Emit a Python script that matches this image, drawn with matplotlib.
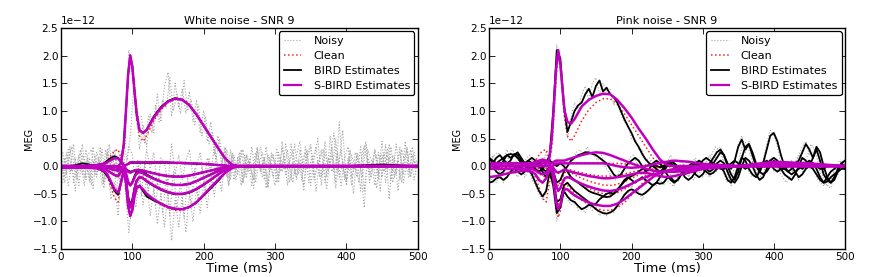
import numpy as np
import matplotlib
matplotlib.use('Agg')
import matplotlib.pyplot as plt
from matplotlib.lines import Line2D

UNIT = 1e-12  # values below are in units of 1e-12

# ---------------- time axes ----------------
t_s = [0, 10, 20, 30, 40, 50, 60, 65, 70, 75,
       80, 84, 88, 91, 94, 97, 100, 103, 106, 110,
       115, 120, 130, 140, 150, 160, 170, 180, 190, 200,
       210, 220, 230, 240, 250, 260, 280, 300, 350, 400,
       450, 500]
t_5 = list(range(0, 501, 5))
t_5o = [2.5 + 5 * k for k in range(100)]

# ---------------- clean signals (both panels) ----------------
clean_1 = [0, 0, 0, 0, 0, 0, 0, 0, 0, 0.02,
           0.0, 0.02, 0.35, 0.95, 1.6, 2.04, 1.8, 1.3, 0.85, 0.55,
           0.45, 0.55, 0.82, 1.02, 1.15, 1.22, 1.22, 1.12, 0.95, 0.75,
           0.55, 0.35, 0.15, 0.03, 0.0, 0, 0, 0, 0, 0,
           0, 0]
clean_2 = [-0.02, -0.03, -0.03, -0.03, -0.04, -0.05, -0.1, -0.2, -0.38, -0.58,
           -0.65, -0.35, -0.05, -0.3, -0.75, -0.93, -0.82, -0.55, -0.38, -0.35,
           -0.42, -0.5, -0.62, -0.7, -0.76, -0.8, -0.8, -0.75, -0.66, -0.52,
           -0.38, -0.25, -0.12, -0.03, 0.0, 0.01, 0.01, 0, 0, 0,
           0, 0]
clean_3 = [-0.01, -0.01, -0.01, -0.02, -0.02, -0.03, -0.05, -0.08, -0.12, -0.18,
           -0.2, -0.1, 0.0, -0.2, -0.55, -0.72, -0.62, -0.4, -0.25, -0.18,
           -0.2, -0.25, -0.33, -0.4, -0.46, -0.5, -0.51, -0.48, -0.42, -0.34,
           -0.25, -0.16, -0.08, -0.02, 0, 0, 0, 0, 0, 0,
           0, 0]
clean_4 = [0, 0, 0, 0, 0, -0.01, -0.02, -0.03, -0.05, -0.08,
           -0.1, -0.05, 0.0, -0.12, -0.28, -0.36, -0.3, -0.2, -0.12, -0.1,
           -0.12, -0.16, -0.22, -0.27, -0.31, -0.34, -0.35, -0.33, -0.28, -0.22,
           -0.16, -0.1, -0.05, -0.01, 0, 0, 0, 0, 0, 0,
           0, 0]
clean_5 = [0, 0, 0, 0, 0, 0, 0, 0, -0.02, -0.03,
           -0.04, -0.02, 0.0, -0.05, -0.1, -0.12, -0.1, -0.08, -0.06, -0.06,
           -0.07, -0.09, -0.12, -0.15, -0.17, -0.18, -0.18, -0.17, -0.14, -0.11,
           -0.08, -0.05, -0.02, 0, 0, 0, 0, 0, 0, 0,
           0, 0]
clean_6 = [0, 0, 0, 0, 0.01, 0.02, 0.05, 0.1, 0.2, 0.28,
           0.3, 0.15, 0.02, 0.0, 0.02, 0.05, 0.06, 0.06, 0.06, 0.06,
           0.06, 0.06, 0.06, 0.06, 0.06, 0.06, 0.05, 0.05, 0.04, 0.04,
           0.03, 0.02, 0.01, 0.0, -0.01, -0.02, -0.02, -0.01, 0, 0,
           0, 0]

# ---------------- white noise panel ----------------
white_noisy_1 = [0.2, -0.3, 0.1, 0.35, -0.2, 0.05, 0.4, -0.25, 0.15, -0.4,
                 0.25, 0.0, -0.3, 0.3, -0.15, 0.2, -0.1, 0.25, 0.4, 2.1,
                 1.6, 1.2, 0.3, 0.75, 0.35, 0.95, 0.6, 1.3, 0.8, 1.45,
                 1.7, 0.9, 1.5, 1.05, 1.4, 0.95, 1.35, 0.8, 1.2, 0.6,
                 1.0, 0.45, 0.8, 0.2, 0.55, 0.0, 0.35, -0.2, 0.25, -0.1,
                 0.15, -0.3, 0.2, 0.0, -0.25, 0.3, -0.1, 0.15, -0.35, 0.25,
                 0.05, -0.2, 0.35, -0.15, 0.1, -0.3, 0.2, 0.45, -0.1, 0.3,
                 -0.35, 0.15, 0.5, -0.2, 0.25, -0.05, 0.35, -0.3, 0.8, 0.0,
                 -0.25, 0.3, -0.1, 0.2, -0.45, 0.35, 0.05, -0.2, 0.3, -0.15,
                 0.45, -0.3, 0.15, -0.1, 0.4, -0.25, 0.1, 0.3, -0.2, 0.25,
                 0.0]
white_noisy_2 = [-0.25, 0.15, -0.35, 0.05, -0.45, 0.2, -0.15, 0.3, -0.3, 0.1,
                 -0.2, 0.35, -0.4, 0.05, -0.6, -0.3, -0.9, 0.0, -0.4, -1.2,
                 -0.6, -0.75, -0.1, -0.7, -0.2, -0.9, -0.4, -1.05, -0.5, -1.1,
                 -0.45, -1.35, -0.6, -1.1, -0.55, -1.2, -0.5, -1.0, -0.4, -0.85,
                 -0.3, -0.75, -0.15, -0.55, 0.0, -0.45, 0.1, -0.35, 0.2, -0.25,
                 0.05, 0.3, -0.2, 0.15, -0.4, 0.1, 0.35, -0.25, 0.2, -0.05,
                 -0.35, 0.25, -0.1, 0.4, -0.3, 0.05, -0.2, 0.3, -0.45, 0.15,
                 0.35, -0.25, 0.1, -0.35, 0.45, -0.1, 0.2, -0.4, 0.1, 0.65,
                 -0.3, 0.15, -0.5, 0.25, -0.05, -0.75, 0.3, 0.1, -0.35, 0.25,
                 -0.2, 0.4, -0.6, 0.2, -0.15, 0.35, -0.3, 0.05, 0.3, -0.25,
                 0.1]
white_noisy_3 = [0.1, -0.2, 0.3, -0.1, 0.15, -0.35, 0.2, 0.05, -0.25, 0.35,
                 -0.15, 0.1, -0.3, 0.25, 0.0, 0.3, -0.2, 0.15, -0.1, 0.35,
                 0.2, -0.4, 0.1, -0.25, 0.3, -0.05, 0.25, -0.35, 0.15, 0.05,
                 -0.3, 0.4, -0.15, 0.2, -0.25, 0.1, 0.3, -0.2, 0.0, 0.25,
                 -0.3, 0.15, -0.1, 0.35, -0.2, 0.05, 0.3, -0.35, 0.1, -0.05,
                 0.25, -0.3, 0.2, 0.0, -0.25, 0.35, -0.1, 0.15, -0.4, 0.2,
                 0.1, -0.3, 0.45, -0.15, 0.05, 0.3, -0.25, 0.1, -0.35, 0.2,
                 0.4, -0.2, 0.0, 0.3, -0.3, 0.15, -0.1, 0.5, -0.2, 0.05,
                 -0.35, 0.25, 0.1, -0.2, 0.35, -0.45, 0.15, 0.0, 0.3, -0.25,
                 0.2, -0.1, 0.4, -0.3, 0.05, 0.25, -0.15, 0.35, -0.2, 0.1,
                 0.0]
# sampled on the half-step grid t_5o
white_noisy_4 = [-0.3, 0.25, -0.1, 0.4, -0.25, 0.1, -0.35, 0.2, 0.3, -0.15,
                 0.15, -0.35, 0.3, -0.05, 0.2, -0.45, 0.05, 0.3, -0.4, -0.95,
                 -0.4, 0.1, -0.55, 0.05, -0.45, -0.1, -0.7, -0.15, -0.85, -0.2,
                 -0.9, -0.1, -0.75, -0.3, -0.95, -0.2, -0.7, -0.05, -0.6, 0.0,
                 -0.45, 0.15, -0.4, 0.2, -0.3, 0.25, -0.2, 0.3, -0.25, 0.15,
                 -0.35, 0.2, -0.1, 0.35, -0.3, 0.05, 0.25, -0.4, 0.15, -0.2,
                 0.3, -0.1, 0.2, -0.35, 0.4, -0.15, 0.1, -0.25, 0.35, -0.05,
                 0.2, -0.45, 0.1, 0.3, -0.2, 0.55, -0.1, 0.25, -0.35, 0.15,
                 0.35, -0.2, 0.05, -0.3, 0.25, 0.45, -0.15, 0.1, -0.4, 0.2,
                 -0.1, 0.3, -0.25, 0.15, -0.45, 0.3, 0.05, -0.2, 0.35, -0.15]
white_noisy_5 = [0.25, -0.15, 0.35, -0.3, 0.05, 0.3, -0.2, 0.15, -0.35, 0.2,
                 -0.1, 0.3, -0.25, 0.4, -0.1, 0.15, -0.3, 0.45, 0.1, 0.6,
                 1.6, 0.9, 0.9, 0.4, 0.9, 0.6, 1.1, 0.8, 1.2, 1.05,
                 1.6, 1.0, 1.3, 0.95, 1.55, 1.0, 1.2, 0.75, 1.1, 0.55,
                 0.9, 0.4, 0.6, 0.15, 0.5, -0.1, 0.3, -0.25, 0.2, -0.15,
                 0.3, -0.2, 0.1, -0.35, 0.25, 0.0, -0.2, 0.35, -0.1, 0.2,
                 -0.3, 0.15, -0.05, 0.3, -0.25, 0.4, -0.15, 0.05, 0.25, -0.3,
                 0.1, 0.35, -0.2, 0.05, -0.4, 0.2, 0.6, -0.1, 0.3, -0.25,
                 0.15, -0.35, 0.25, 0.05, -0.2, 0.4, -0.3, 0.1, 0.2, -0.45,
                 0.25, -0.05, 0.35, -0.2, 0.1, -0.3, 0.45, -0.1, 0.2, 0.0]

white_bird_1 = [0, 0, 0, 0, 0, 0, 0, 0, 0, 0.0,
                0.0, 0.05, 0.4, 1.0, 1.65, 2.0, 1.8, 1.35, 0.95, 0.65,
                0.6, 0.66, 0.9, 1.07, 1.18, 1.23, 1.2, 1.1, 0.93, 0.73,
                0.53, 0.33, 0.14, 0.02, 0.0, 0, 0, 0, 0, 0,
                0, 0]
white_bird_2 = [-0.02, -0.02, 0.02, 0.05, 0.03, -0.02, -0.1, -0.18, -0.3, -0.45,
                -0.52, -0.3, -0.05, -0.3, -0.7, -0.9, -0.78, -0.52, -0.38, -0.35,
                -0.45, -0.55, -0.62, -0.68, -0.74, -0.78, -0.78, -0.74, -0.66, -0.53,
                -0.4, -0.27, -0.12, -0.03, 0.0, -0.02, -0.01, 0, 0, 0,
                0.03, 0]
white_bird_3 = [-0.02, -0.02, -0.02, -0.02, -0.02, -0.03, -0.05, -0.08, -0.12, -0.16,
                -0.18, -0.1, 0.0, -0.22, -0.55, -0.7, -0.6, -0.4, -0.26, -0.2,
                -0.22, -0.28, -0.36, -0.43, -0.48, -0.51, -0.51, -0.48, -0.42, -0.34,
                -0.25, -0.15, -0.07, -0.02, 0, 0, 0, 0, 0, 0,
                0, 0]
white_bird_4 = [0, 0, 0, 0, 0, -0.01, -0.02, -0.03, -0.05, -0.07,
                -0.08, -0.04, 0.0, -0.15, -0.3, -0.35, -0.28, -0.18, -0.1, -0.08,
                -0.1, -0.15, -0.22, -0.28, -0.32, -0.34, -0.34, -0.32, -0.27, -0.21,
                -0.15, -0.09, -0.04, -0.01, 0, 0, 0, 0, 0, 0,
                0, 0]
white_bird_5 = [0, 0, 0, 0, 0, 0, 0, 0, -0.01, -0.02,
                -0.03, -0.02, 0.0, -0.05, -0.08, -0.1, -0.09, -0.08, -0.08, -0.08,
                -0.09, -0.1, -0.13, -0.16, -0.18, -0.19, -0.19, -0.17, -0.14, -0.11,
                -0.08, -0.05, -0.02, 0, 0, 0, 0, 0, 0, 0,
                0, 0]
white_bird_6 = [0, 0, 0, 0, 0.01, 0.02, 0.05, 0.1, 0.15, 0.18,
                0.15, 0.08, 0.02, 0.02, 0.04, 0.06, 0.06, 0.06, 0.06, 0.06,
                0.06, 0.06, 0.06, 0.06, 0.06, 0.06, 0.05, 0.05, 0.04, 0.04,
                0.03, 0.02, 0.01, 0.0, 0, 0, 0, 0, 0, 0,
                0, 0]

white_sbird_1 = [0, 0, 0, 0, 0, 0, 0, 0, 0, 0.0,
                 0.0, 0.05, 0.4, 1.0, 1.65, 2.0, 1.8, 1.35, 0.95, 0.65,
                 0.6, 0.65, 0.88, 1.05, 1.17, 1.22, 1.2, 1.1, 0.93, 0.73,
                 0.53, 0.33, 0.14, 0.02, 0.0, 0, 0, 0, 0, 0,
                 0, 0]
white_sbird_2 = [-0.03, -0.03, -0.03, -0.03, -0.03, -0.04, -0.08, -0.15, -0.28, -0.42,
                 -0.48, -0.3, -0.08, -0.3, -0.72, -0.9, -0.8, -0.55, -0.4, -0.36,
                 -0.42, -0.5, -0.6, -0.68, -0.74, -0.77, -0.78, -0.74, -0.65, -0.52,
                 -0.38, -0.25, -0.12, -0.03, 0, 0, 0, 0, 0, 0,
                 0, 0]
white_sbird_3 = [-0.02, -0.02, -0.02, -0.02, -0.02, -0.03, -0.05, -0.08, -0.12, -0.16,
                 -0.18, -0.1, 0.0, -0.22, -0.58, -0.75, -0.65, -0.42, -0.27, -0.2,
                 -0.22, -0.27, -0.35, -0.42, -0.47, -0.5, -0.5, -0.47, -0.41, -0.33,
                 -0.24, -0.15, -0.07, -0.02, 0, 0, 0, 0, 0, 0,
                 0, 0]
white_sbird_4 = [0, 0, 0, 0, 0, -0.01, -0.02, -0.03, -0.05, -0.07,
                 -0.08, -0.04, 0.0, -0.12, -0.28, -0.35, -0.3, -0.2, -0.13, -0.11,
                 -0.13, -0.17, -0.23, -0.28, -0.32, -0.34, -0.34, -0.32, -0.27, -0.21,
                 -0.15, -0.09, -0.04, -0.01, 0, 0, 0, 0, 0, 0,
                 0, 0]
white_sbird_5 = [0, 0, 0, 0, 0, 0, 0, 0, -0.01, -0.02,
                 -0.03, -0.02, 0.0, -0.05, -0.1, -0.12, -0.1, -0.08, -0.07, -0.07,
                 -0.08, -0.1, -0.13, -0.16, -0.18, -0.19, -0.19, -0.17, -0.14, -0.11,
                 -0.08, -0.05, -0.02, 0, 0, 0, 0, 0, 0, 0,
                 0, 0]
white_sbird_6 = [0, 0, 0, 0, 0.01, 0.02, 0.04, 0.07, 0.11, 0.14,
                 0.14, 0.08, 0.02, 0.02, 0.04, 0.07, 0.07, 0.07, 0.07, 0.07,
                 0.07, 0.07, 0.07, 0.07, 0.07, 0.06, 0.06, 0.05, 0.05, 0.04,
                 0.03, 0.02, 0.01, 0.0, 0, 0, 0, 0, 0, 0,
                 0, 0]

# ---------------- pink noise panel ----------------
pink_noisy_1 = [-0.1, 0.2, 0.05, -0.15, 0.1, 0.3, 0.1, -0.05, 0.2, 0.0,
                -0.2, -0.1, 0.1, -0.05, -0.25, 0.05, 0.25, 0.0, 0.9, 2.2,
                1.7, 1.0, 0.5, 0.9, 1.15, 1.0, 1.3, 1.45, 1.2, 1.5,
                1.6, 1.3, 1.5, 1.35, 1.4, 1.1, 1.2, 0.95, 0.8, 0.75,
                0.5, 0.5, 0.3, 0.3, 0.1, 0.15, -0.05, 0.05, 0.1, -0.1,
                0.05, 0.2, 0.0, -0.15, 0.1, 0.0, -0.2, 0.05, 0.15, -0.1,
                -0.2, 0.1, 0.2, 0.05, 0.3, 0.35, 0.1, -0.15, -0.35, 0.05,
                0.4, 0.55, 0.25, 0.45, 0.1, -0.1, -0.25, 0.1, 0.4, 0.65,
                0.55, 0.35, 0.05, -0.15, -0.05, 0.1, 0.0, 0.2, 0.35, 0.45,
                0.2, 0.25, 0.35, 0.0, -0.25, -0.35, -0.4, -0.15, 0.0, 0.1,
                0.05]
pink_noisy_2 = [-0.35, -0.2, -0.3, -0.1, -0.3, -0.15, 0.0, -0.1, -0.2, -0.05,
                -0.15, 0.05, -0.25, -0.35, -0.5, -0.6, -0.5, -0.15, -0.4, -1.0,
                -0.7, -0.55, -0.6, -0.7, -0.6, -0.8, -0.75, -0.85, -0.7, -0.8,
                -0.75, -0.9, -0.8, -0.9, -0.8, -0.85, -0.65, -0.7, -0.5, -0.5,
                -0.35, -0.5, -0.45, -0.6, -0.45, -0.45, -0.3, -0.35, -0.25, -0.35,
                -0.2, -0.15, -0.35, -0.2, -0.1, -0.15, 0.0, 0.05, 0.1, -0.05,
                -0.1, -0.15, -0.2, -0.05, -0.1, 0.05, -0.15, -0.3, -0.25, -0.15,
                0.05, 0.2, 0.05, -0.1, -0.2, -0.15, -0.05, 0.1, 0.05, 0.1,
                -0.1, -0.05, -0.1, 0.05, 0.0, -0.05, -0.15, -0.25, -0.1, 0.0,
                -0.05, 0.0, -0.2, -0.3, -0.35, -0.25, -0.25, -0.1, -0.15, 0.0,
                -0.05]
# sampled on the half-step grid t_5o
pink_noisy_3 = [0.1, 0.2, 0.25, 0.15, 0.05, 0.15, 0.3, 0.2, 0.1, 0.05,
                0.15, 0.2, 0.05, -0.05, -0.15, -0.05, 0.1, -0.1, -0.2, -0.35,
                -0.15, 0.05, 0.15, 0.1, 0.25, 0.3, 0.2, 0.35, 0.25, 0.2,
                0.1, 0.2, 0.0, -0.1, -0.2, -0.25, -0.1, 0.05, 0.0, 0.15,
                0.2, 0.05, 0.0, -0.15, 0.0, 0.1, 0.05, -0.1, -0.05, -0.2,
                -0.3, -0.35, -0.2, -0.1, 0.05, -0.1, -0.2, -0.25, -0.1, 0.0,
                0.05, 0.1, 0.2, 0.35, 0.3, 0.15, -0.05, -0.2, -0.3, -0.05,
                0.2, 0.45, 0.4, 0.2, 0.0, -0.15, -0.2, -0.05, 0.1, 0.15,
                0.0, -0.1, -0.2, -0.3, -0.2, -0.05, 0.15, 0.2, 0.05, 0.2,
                0.4, 0.3, 0.05, -0.25, -0.35, -0.3, -0.15, 0.0, 0.1, 0.05]

pink_bird_1 = [0.15, 0.05, -0.05, 0.0, 0.1, 0.2, 0.15, 0.2, 0.25, 0.15,
               0.05, 0.0, -0.05, 0.0, 0.05, 0.1, 0.05, 0.2, 1.0, 2.1,
               1.95, 1.1, 0.62, 0.8, 1.0, 1.1, 1.15, 1.3, 1.4, 1.25,
               1.45, 1.55, 1.35, 1.42, 1.3, 1.25, 1.15, 1.0, 0.85, 0.72,
               0.6, 0.45, 0.35, 0.22, 0.12, 0.05, 0.02, 0.0, -0.02, 0.0,
               0.05, 0.08, 0.05, 0.0, -0.05, -0.05, 0.0, 0.05, 0.02, -0.03,
               -0.05, 0.0, 0.05, 0.05, 0.0, -0.05, -0.05, 0.0, 0.05, 0.1,
               0.05, 0.0, -0.05, 0.0, 0.05, 0.0, -0.05, 0.0, 0.05, 0.1,
               0.05, 0.0, -0.05, -0.05, 0.0, 0.05, 0.05, 0.0, -0.05, 0.0,
               0.05, 0.05, 0.0, -0.05, -0.05, 0.0, 0.02, 0.0, -0.02, 0.0,
               0.0]
pink_bird_2 = [-0.3, -0.28, -0.22, -0.2, -0.25, -0.2, -0.1, -0.05, -0.1, -0.15,
               -0.1, -0.05, -0.15, -0.3, -0.45, -0.55, -0.45, -0.1, -0.35, -0.85,
               -0.75, -0.45, -0.55, -0.62, -0.65, -0.72, -0.78, -0.75, -0.7, -0.72,
               -0.78, -0.82, -0.85, -0.86, -0.84, -0.8, -0.72, -0.62, -0.52, -0.45,
               -0.42, -0.45, -0.5, -0.52, -0.48, -0.42, -0.35, -0.3, -0.32, -0.3,
               -0.22, -0.2, -0.28, -0.25, -0.15, -0.1, -0.05, 0.0, 0.05, 0.02,
               -0.05, -0.1, -0.15, -0.12, -0.05, 0.0, -0.1, -0.25, -0.3, -0.2,
               0.0, 0.15, 0.1, -0.05, -0.15, -0.2, -0.1, 0.05, 0.1, 0.05,
               -0.05, -0.1, -0.05, 0.0, 0.05, 0.0, -0.1, -0.2, -0.15, -0.05,
               0.0, -0.05, -0.15, -0.25, -0.3, -0.28, -0.2, -0.15, -0.1, -0.05,
               -0.05]
pink_bird_3 = [0.15, 0.1, 0.05, 0.1, 0.15, 0.2, 0.22, 0.2, 0.15, 0.05,
               0.0, -0.05, 0.0, 0.05, 0.0, -0.1, -0.2, -0.05, -0.2, -0.65,
               -0.6, -0.35, -0.3, -0.38, -0.45, -0.5, -0.55, -0.6, -0.65, -0.7,
               -0.68, -0.6, -0.55, -0.5, -0.48, -0.5, -0.45, -0.35, -0.25, -0.2,
               -0.25, -0.3, -0.25, -0.2, -0.25, -0.3, -0.35, -0.3, -0.2, -0.1,
               0.0, 0.05, 0.0, -0.05, -0.1, -0.2, -0.25, -0.2, -0.1, 0.0,
               0.1, 0.15, 0.1, 0.05, 0.15, 0.25, 0.2, 0.05, -0.05, 0.1,
               0.35, 0.48, 0.3, 0.4, 0.2, 0.0, -0.1, 0.05, 0.3, 0.55,
               0.6, 0.45, 0.2, 0.0, -0.1, -0.05, 0.05, 0.1, 0.25, 0.4,
               0.3, 0.15, 0.3, 0.1, -0.15, -0.25, -0.3, -0.2, -0.05, 0.05,
               0.0]
pink_bird_4 = [-0.05, 0.05, 0.15, 0.2, 0.12, 0.05, 0.1, 0.22, 0.2, 0.1,
               0.05, 0.1, 0.15, 0.1, 0.0, -0.05, -0.1, 0.0, -0.1, -0.3,
               -0.25, -0.1, 0.0, 0.1, 0.15, 0.2, 0.22, 0.25, 0.25, 0.22,
               0.2, 0.15, 0.1, 0.05, -0.05, -0.15, -0.2, -0.15, -0.05, 0.05,
               0.1, 0.15, 0.1, 0.0, -0.1, -0.05, 0.05, 0.1, 0.05, -0.05,
               -0.15, -0.25, -0.3, -0.25, -0.15, -0.05, 0.0, -0.05, -0.15, -0.2,
               -0.15, -0.05, 0.05, 0.15, 0.25, 0.3, 0.2, 0.0, -0.15, -0.25,
               -0.1, 0.15, 0.35, 0.4, 0.25, 0.05, -0.1, -0.15, -0.1, 0.0,
               0.1, 0.05, -0.05, -0.15, -0.2, -0.25, -0.15, 0.0, 0.15, 0.1,
               0.0, 0.15, 0.35, 0.25, 0.0, -0.2, -0.3, -0.25, -0.1, 0.05,
               0.1]
pink_bird_5 = [0.05, 0.0, -0.1, -0.15, -0.1, 0.0, 0.05, 0.0, -0.05, -0.02,
               0.05, 0.1, 0.05, -0.05, -0.1, -0.05, 0.05, 0.1, 0.05, 0.0,
               0.05, 0.0, -0.1, -0.2, -0.25, -0.3, -0.35, -0.4, -0.45, -0.48,
               -0.5, -0.52, -0.55, -0.56, -0.55, -0.5, -0.42, -0.35, -0.28, -0.22,
               -0.18, -0.15, -0.1, -0.05, 0.0, 0.02, 0.0, -0.05, -0.1, -0.05,
               0.05, 0.1, 0.05, -0.05, -0.1, -0.15, -0.1, 0.0, 0.05, 0.1,
               0.05, -0.05, -0.1, -0.05, 0.05, 0.1, 0.05, -0.1, -0.25, -0.3,
               -0.2, 0.0, 0.15, 0.1, 0.0, -0.15, -0.25, -0.2, -0.05, 0.1,
               0.15, 0.1, 0.0, -0.05, -0.1, -0.15, -0.1, -0.05, 0.0, 0.05,
               0.1, 0.05, -0.05, -0.2, -0.3, -0.2, -0.1, -0.05, 0.0, 0.0,
               -0.05]

pink_sbird_1 = [0.0, 0.05, 0.05, 0.05, 0.05, 0.02, 0.0, 0.0, 0.02, 0.05,
                0.05, 0.1, 0.5, 1.1, 1.75, 2.1, 1.85, 1.4, 1.0, 0.8,
                0.77, 0.85, 1.08, 1.2, 1.27, 1.31, 1.3, 1.2, 1.05, 0.88,
                0.68, 0.5, 0.3, 0.12, 0.02, 0.0, 0, 0, 0, 0,
                0, 0]
pink_sbird_2 = [-0.2, -0.18, -0.15, -0.12, -0.1, -0.08, -0.1, -0.15, -0.25, -0.3,
                -0.22, -0.1, -0.05, -0.3, -0.65, -0.78, -0.7, -0.5, -0.42, -0.42,
                -0.48, -0.53, -0.6, -0.66, -0.7, -0.72, -0.72, -0.68, -0.6, -0.5,
                -0.4, -0.3, -0.2, -0.12, -0.08, -0.05, -0.02, 0.0, 0.0, 0.0,
                0.0, 0.0]
pink_sbird_3 = [-0.05, -0.05, -0.05, -0.05, -0.05, -0.05, -0.05, -0.08, -0.12, -0.15,
                -0.12, -0.05, 0.0, -0.15, -0.35, -0.45, -0.4, -0.3, -0.22, -0.2,
                -0.22, -0.26, -0.32, -0.37, -0.41, -0.44, -0.45, -0.43, -0.38, -0.32,
                -0.25, -0.2, -0.15, -0.12, -0.1, -0.1, -0.05, 0.0, 0.0, 0.0,
                0.0, 0.0]
pink_sbird_4 = [0.05, 0.05, 0.05, 0.05, 0.05, 0.05, 0.05, 0.08, 0.1, 0.12,
                0.1, 0.05, 0.05, 0.08, 0.1, 0.1, 0.1, 0.1, 0.1, 0.12,
                0.14, 0.16, 0.2, 0.23, 0.25, 0.24, 0.2, 0.15, 0.1, 0.05,
                0.0, -0.05, -0.08, -0.1, -0.1, -0.1, -0.08, -0.03, 0.0, 0.08,
                0.05, 0.0]
pink_sbird_5 = [0, 0, 0, 0, 0, 0, 0, 0, 0, 0,
                0, 0, 0, -0.05, -0.1, -0.12, -0.1, -0.08, -0.06, -0.08,
                -0.1, -0.12, -0.15, -0.18, -0.2, -0.22, -0.22, -0.2, -0.18, -0.15,
                -0.12, -0.12, -0.15, -0.18, -0.2, -0.18, -0.12, -0.05, 0.0, 0.0,
                0.0, 0.0]
pink_sbird_6 = [0, 0, 0, 0, 0, 0, 0.02, 0.05, 0.08, 0.1,
                0.08, 0.03, 0.0, 0.02, 0.05, 0.05, 0.05, 0.05, 0.05, 0.05,
                0.05, 0.05, 0.05, 0.05, 0.05, 0.05, 0.03, 0.0, -0.02, -0.03,
                -0.02, 0.0, 0.03, 0.06, 0.08, 0.1, 0.08, 0.04, 0.0, 0.05,
                0.03, 0.0]

clean_all = [clean_1, clean_2, clean_3, clean_4, clean_5, clean_6]
white_noisy = [(t_5, white_noisy_1), (t_5, white_noisy_2), (t_5, white_noisy_3),
               (t_5o, white_noisy_4), (t_5o, white_noisy_5)]
white_bird = [white_bird_1, white_bird_2, white_bird_3, white_bird_4, white_bird_5, white_bird_6]
white_sbird = [white_sbird_1, white_sbird_2, white_sbird_3, white_sbird_4, white_sbird_5, white_sbird_6]
pink_noisy = [(t_5, pink_noisy_1), (t_5, pink_noisy_2), (t_5o, pink_noisy_3)]
pink_bird = [pink_bird_1, pink_bird_2, pink_bird_3, pink_bird_4, pink_bird_5]
pink_sbird = [pink_sbird_1, pink_sbird_2, pink_sbird_3, pink_sbird_4, pink_sbird_5, pink_sbird_6]

titles = ["White noise - SNR 9", "Pink noise - SNR 9"]
legend_labels = ["Noisy", "Clean", "BIRD Estimates", "S-BIRD Estimates"]
y_ticks = [-1.5, -1.0, -0.5, 0.0, 0.5, 1.0, 1.5, 2.0, 2.5]
x_ticks = [0, 100, 200, 300, 400, 500]

NOISY_C = '0.65'
CLEAN_C = '#ff2020'
BIRD_C = 'black'
SBIRD_C = '#c000c0'


def u(v):
    return np.asarray(v, dtype=float) * UNIT


def draw(ax, noisy, t_bird, bird, sbird, title):
    for tt, y in noisy:
        ax.plot(tt, u(y), color=NOISY_C, ls=':', lw=0.8)
    for y in clean_all:
        ax.plot(t_s, u(y), color=CLEAN_C, ls=':', lw=1.1)
    for y in bird:
        ax.plot(t_bird, u(y), color=BIRD_C, lw=1.3)
    for y in sbird:
        ax.plot(t_s, u(y), color=SBIRD_C, lw=1.8)
    ax.set_xlim(0, 500)
    ax.set_ylim(-1.5 * UNIT, 2.5 * UNIT)
    ax.set_xticks(x_ticks)
    ax.set_yticks([v * UNIT for v in y_ticks])
    ax.tick_params(direction='in', top=True, right=True, labelsize=7.5,
                   length=4, width=0.6, pad=2)
    ax.yaxis.get_offset_text().set_fontsize(7.5)
    for s in ax.spines.values():
        s.set_linewidth(1.0)
    ax.set_xlabel('Time (ms)', fontsize=9.5, labelpad=0)
    ax.set_ylabel('MEG', fontsize=7, labelpad=-1)
    ax.set_title(title, fontsize=8, pad=3)
    handles = [Line2D([], [], color=NOISY_C, ls=':', lw=0.8),
               Line2D([], [], color=CLEAN_C, ls=':', lw=1.1),
               Line2D([], [], color=BIRD_C, lw=1.3),
               Line2D([], [], color=SBIRD_C, lw=1.6)]
    leg = ax.legend(handles, legend_labels, loc='upper right', fontsize=8,
                    frameon=True, fancybox=True, framealpha=1.0,
                    edgecolor='black', handlelength=1.6, handletextpad=1.1,
                    labelspacing=0.45, borderpad=0.4, borderaxespad=0.3)
    leg.get_frame().set_linewidth(0.9)


fig = plt.figure(figsize=(8.72, 2.77), dpi=100)
ax1 = fig.add_axes([0.070, 0.101, 0.409, 0.798])
ax2 = fig.add_axes([0.561, 0.101, 0.408, 0.798])
draw(ax1, white_noisy, t_s, white_bird, white_sbird, titles[0])
draw(ax2, pink_noisy, t_5, pink_bird, pink_sbird, titles[1])
fig.savefig('out.png', dpi=100)
